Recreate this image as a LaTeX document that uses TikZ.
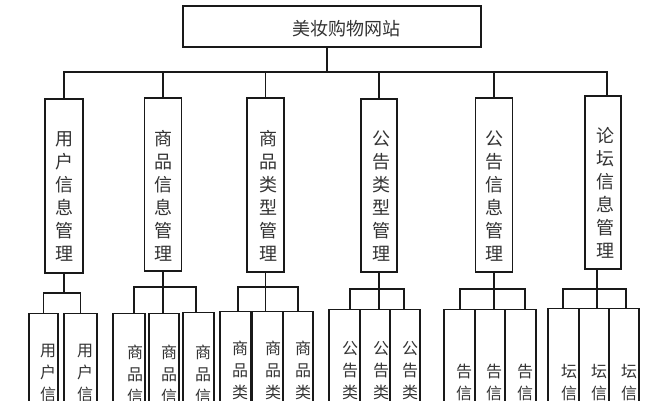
\documentclass[tikz,border=0pt]{standalone}
\usepackage{fontspec}
\newfontfamily\cjk{Noto Sans CJK SC}
\begin{document}
\begin{tikzpicture}[x=1pt,y=-1pt,
  box/.style={draw=black!90, line width=1.4pt, inner sep=0pt},
  leaf/.style={box, anchor=north, minimum height=110pt},
  conn/.style={draw=black!90, line width=1.4pt},
  midlbl/.style={inner sep=0pt, align=center, text=black!80, font=\cjk\fontsize{18}{23}\selectfont},
  leaflbl/.style={inner sep=0pt, align=center, anchor=north, text=black!80, font=\cjk\fontsize{16}{22}\selectfont},
  toplbl/.style={inner sep=0pt, text=black!80, font=\cjk\fontsize{18}{22}\selectfont}]
\useasboundingbox[fill=white] (0,0) rectangle (662,400);

% top
\node[box, minimum width=298pt, minimum height=41pt] (top) at (332,26.5) {};
\node[toplbl] (toptxt) at (346,29) {美妆购物网站};
\coordinate (mb) at (0,72);

% level 2
\node[box, minimum width=38pt, minimum height=174pt] (p1) at (64,186) {};
\node[box, minimum width=37pt, minimum height=173pt] (p2) at (163,184.5) {};
\node[box, minimum width=37pt, minimum height=174pt] (p3) at (265.5,185) {};
\node[box, minimum width=36pt, minimum height=173pt] (p4) at (379,185.5) {};
\node[box, minimum width=37pt, minimum height=174pt] (p5) at (494,185) {};
\node[box, minimum width=36pt, minimum height=173pt] (p6) at (603,182.5) {};

\node[midlbl] (t1) at (65,196) {用\\户\\信\\息\\管\\理};
\node[midlbl] (t2) at (163,196) {商\\品\\信\\息\\管\\理};
\node[midlbl] (t3) at (268,196) {商\\品\\类\\型\\管\\理};
\node[midlbl] (t4) at (381,196) {公\\告\\类\\型\\管\\理};
\node[midlbl] (t5) at (494,196) {公\\告\\信\\息\\管\\理};
\node[midlbl] (t6) at (605,193) {论\\坛\\信\\息\\管\\理};

% main connectors
\draw[conn] ([xshift=-5pt]top.south) -- ([xshift=-5pt]top.south |- mb);
\draw[conn] (p1.north) -- (p1.north |- mb) -- ([xshift=4pt]p6.north |- mb) -- ([xshift=4pt]p6.north);
\draw[conn] (p2.north) -- (p2.north |- mb);
\draw[conn] (p3.north) -- (p3.north |- mb);
\draw[conn] (p4.north) -- (p4.north |- mb);
\draw[conn] (p5.north) -- (p5.north |- mb);

% group 1 leaves
\node[leaf, minimum width=29pt] (c1a) at (43.5,313) {};
\node[leaf, minimum width=33pt] (c1b) at (80.5,313) {};
\coordinate (g1) at (0,293);
\draw[conn] (p1.south) -- (p1.south |- g1);
\draw[conn] (c1a.north) -- (c1a.north |- g1) -- (c1b.north |- g1) -- (c1b.north);
\node[leaflbl] (l1a) at (48,344) {用\\户\\信};
\node[leaflbl] (l1b) at (85,344) {用\\户\\信};

% group 2 leaves
\node[leaf, minimum width=32pt] (c2a) at (129,312.5) {};
\node[leaf, minimum width=30pt] (c2b) at (164,312.5) {};
\node[leaf, minimum width=31pt] (c2c) at (198.5,312) {};
\coordinate (g2l) at (134,287);
\coordinate (g2r) at (196,287);
\draw[conn] (g2l |- c2a.north) -- (g2l) -- (g2r) -- (g2r |- c2c.north);
\draw[conn] (p2.south) -- (p2.south |- c2b.north);
\node[leaflbl] (l2a) at (135,345) {商\\品\\信};
\node[leaflbl] (l2b) at (169,345) {商\\品\\信};
\node[leaflbl] (l2c) at (203,345) {商\\品\\信};

% group 3 leaves
\node[leaf, minimum width=31pt] (c3a) at (235.5,311) {};
\node[leaf, minimum width=31pt] (c3b) at (267.5,311) {};
\node[leaf, minimum width=30pt] (c3c) at (298,311) {};
\coordinate (g3l) at (238,287);
\coordinate (g3r) at (298,287);
\draw[conn] (g3l |- c3a.north) -- (g3l) -- (g3r) -- (g3r |- c3c.north);
\draw[conn] (p3.south) -- (p3.south |- c3b.north);
\node[leaflbl] (l3a) at (240,341) {商\\品\\类};
\node[leaflbl] (l3b) at (273,341) {商\\品\\类};
\node[leaflbl] (l3c) at (303,341) {商\\品\\类};

% group 4 leaves
\node[leaf, minimum width=31pt] (c4a) at (344.5,309) {};
\node[leaf, minimum width=30pt] (c4b) at (375,309) {};
\node[leaf, minimum width=30pt] (c4c) at (405,309) {};
\coordinate (g4l) at (350,289);
\coordinate (g4r) at (404,289);
\draw[conn] (g4l |- c4a.north) -- (g4l) -- (g4r) -- (g4r |- c4c.north);
\draw[conn] (p4.south) -- (p4.south |- c4b.north);
\node[leaflbl] (l4a) at (350,341) {公\\告\\类};
\node[leaflbl] (l4b) at (381,341) {公\\告\\类};
\node[leaflbl] (l4c) at (410,341) {公\\告\\类};

% group 5 leaves
\node[leaf, minimum width=31pt] (c5a) at (459.5,309) {};
\node[leaf, minimum width=30pt] (c5b) at (490,309) {};
\node[leaf, minimum width=31pt] (c5c) at (520.5,309) {};
\coordinate (g5l) at (460,289);
\coordinate (g5r) at (525,289);
\draw[conn] (g5l |- c5a.north) -- (g5l) -- (g5r) -- (g5r |- c5c.north);
\draw[conn] (p5.south) -- (p5.south |- c5b.north);
\node[leaflbl] (l5a) at (464,364) {告\\信};
\node[leaflbl] (l5b) at (494,364) {告\\信};
\node[leaflbl] (l5c) at (525,364) {告\\信};

% group 6 leaves
\node[leaf, minimum width=31pt] (c6a) at (563.5,308) {};
\node[leaf, minimum width=30pt] (c6b) at (594,308) {};
\node[leaf, minimum width=30pt] (c6c) at (624,308) {};
\coordinate (g6l) at (563,289);
\coordinate (g6r) at (626,289);
\draw[conn] (g6l |- c6a.north) -- (g6l) -- (g6r) -- (g6r |- c6c.north);
\draw[conn] ([xshift=-6pt]p6.south) -- ([xshift=-6pt]p6.south |- c6b.north);
\node[leaflbl] (l6a) at (569,364) {坛\\信};
\node[leaflbl] (l6b) at (599,364) {坛\\信};
\node[leaflbl] (l6c) at (629,364) {坛\\信};
\end{tikzpicture}
\end{document}
